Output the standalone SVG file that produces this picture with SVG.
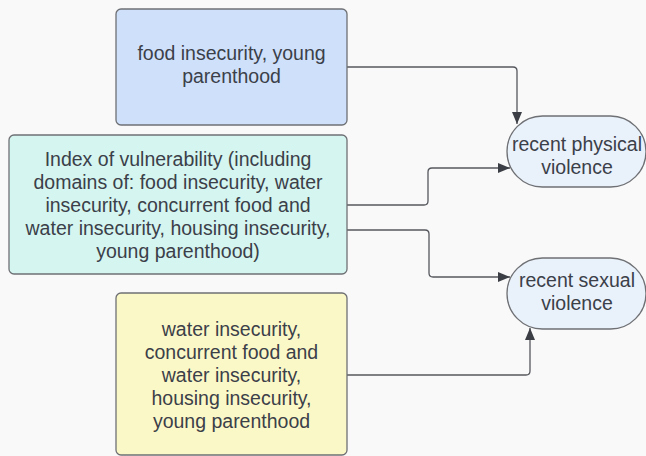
<svg xmlns="http://www.w3.org/2000/svg" width="646" height="456" viewBox="0 0 646 456">
<style>
.box{stroke:#6e7074;stroke-width:1.3}
.t{font-family:"Liberation Sans",Arial,sans-serif;font-size:19.5px;fill:#3b4049;text-anchor:middle}
.c{fill:none;stroke:#55585e;stroke-width:1.3}
</style>
<defs>
<marker id="ah" viewBox="0 0 12 10" refX="12" refY="5" markerWidth="12" markerHeight="10" markerUnits="userSpaceOnUse" orient="auto">
<path d="M0,0 L12,5 L0,10 Z" fill="#3b3e44"/>
</marker>
</defs>
<rect width="646" height="456" fill="#f9f9f9"/>
<g id="connectors">
<path class="c" d="M347,67 H513 Q517,67 517,71 V124" marker-end="url(#ah)"/>
<path class="c" d="M347,205 H424 Q428,205 428,201 V172 Q428,168 432,168 H510" marker-end="url(#ah)"/>
<path class="c" d="M347,230 H425 Q429,230 429,234 V273 Q429,277 433,277 H510" marker-end="url(#ah)"/>
<path class="c" d="M347,375 H526 Q530,375 530,371 V328" marker-end="url(#ah)"/>
</g>
<g id="n1">
<rect class="box" x="116" y="9" width="231" height="116" rx="5" fill="#cfe0fb"/>
<text class="t" x="231.5" y="60">food insecurity, young</text>
<text class="t" x="231.5" y="83">parenthood</text>
</g>
<g id="n2">
<rect class="box" x="9" y="135" width="338" height="139" rx="5" fill="#d5f5f0"/>
<text class="t" x="178" y="166">Index of vulnerability (including</text>
<text class="t" x="178" y="189">domains of: food insecurity, water</text>
<text class="t" x="178" y="212">insecurity, concurrent food and</text>
<text class="t" x="178" y="235">water insecurity, housing insecurity,</text>
<text class="t" x="178" y="258">young parenthood)</text>
</g>
<g id="n3">
<rect class="box" x="116" y="293" width="231" height="162" rx="5" fill="#fbf8c7"/>
<text class="t" x="231.5" y="336">water insecurity,</text>
<text class="t" x="231.5" y="359">concurrent food and</text>
<text class="t" x="231.5" y="382">water insecurity,</text>
<text class="t" x="231.5" y="405">housing insecurity,</text>
<text class="t" x="231.5" y="428">young parenthood</text>
</g>
<g id="n4">
<rect class="box" x="507" y="116" width="139" height="71" rx="35.5" fill="#e9f1fb"/>
<text class="t" x="577" y="151">recent physical</text>
<text class="t" x="577" y="174">violence</text>
</g>
<g id="n5">
<rect class="box" x="507" y="258" width="139" height="71" rx="35.5" fill="#e9f1fb"/>
<text class="t" x="577" y="287">recent sexual</text>
<text class="t" x="577" y="310">violence</text>
</g>
</svg>
